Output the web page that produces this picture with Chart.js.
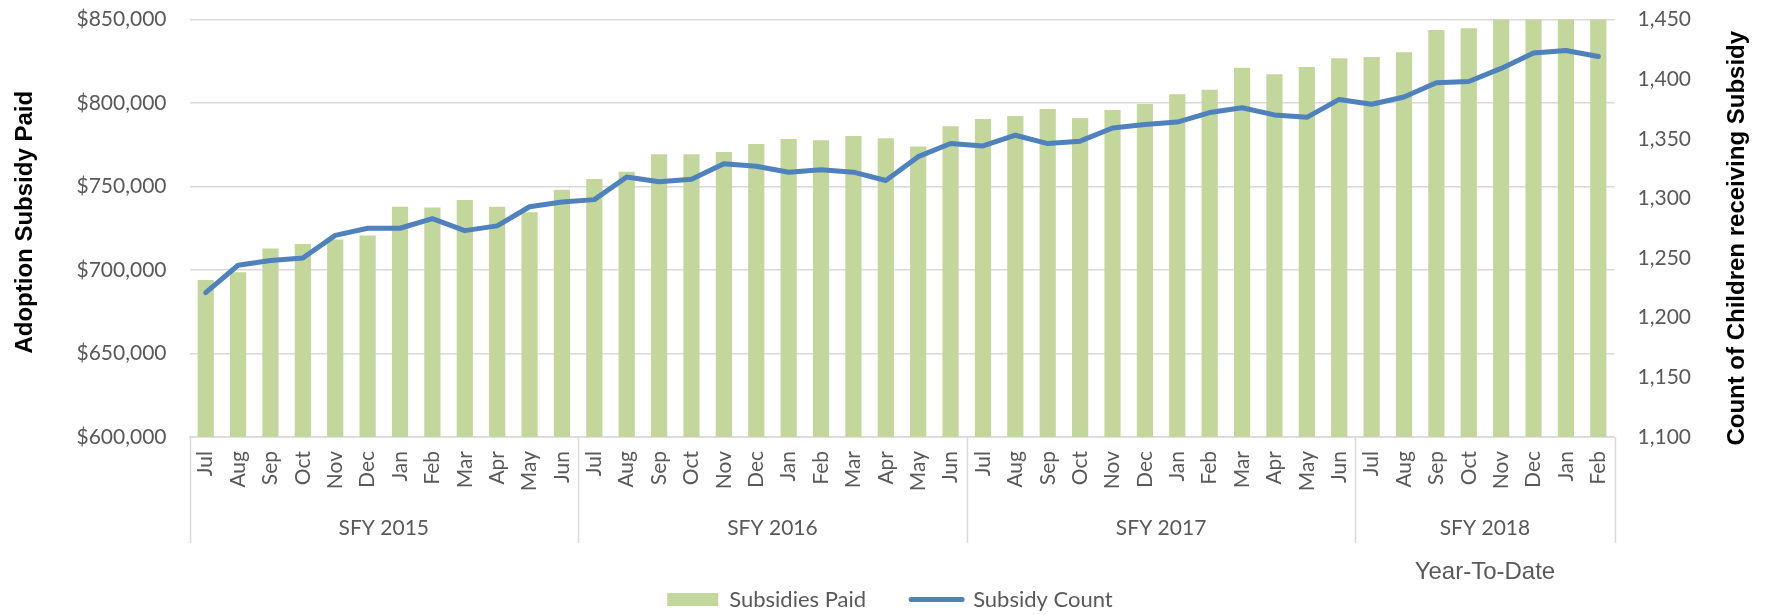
<!DOCTYPE html>
<html>
<head>
<meta charset="utf-8">
<title>Adoption Subsidy</title>
<script src="https://cdn.jsdelivr.net/npm/chart.js@4.4.1/dist/chart.umd.min.js"></script>
<style>
  html, body { margin: 0; padding: 0; background: #fff; }
</style>
</head>
<body>
<canvas id="subsidyChart" width="1780" height="615"></canvas>
<script>
// fiscal years and the months reported in each
const fiscalYears = ["SFY 2015", "SFY 2016", "SFY 2017", "SFY 2018"];
const monthsPerYear = [12, 12, 12, 8];
const monthNames = ["Jul", "Aug", "Sep", "Oct", "Nov", "Dec", "Jan", "Feb", "Mar", "Apr", "May", "Jun"];
const months = fiscalYears.flatMap((fy, i) => monthNames.slice(0, monthsPerYear[i]));

// monthly subsidy dollars paid
const subsidiesPaid = [
  694000, 698600, 712800, 715600, 718200, 720600, 737900, 737500, 741900, 737900, 734600, 748100,
  754500, 758900, 769300, 769300, 770700, 775500, 778500, 777700, 780300, 778900, 773900, 786100,
  790400, 792200, 796400, 791000, 795800, 799400, 805300, 808000, 821100, 817200, 821600, 826800,
  827500, 830400, 843700, 844700, 852000, 856000, 858000, 855000
];

// children receiving a subsidy each month
const subsidyCount = [
  1221, 1244, 1248, 1250, 1269, 1275, 1275, 1283, 1273, 1277, 1293, 1297,
  1299, 1318, 1314, 1316, 1329, 1327, 1322, 1324, 1322, 1315, 1335, 1346,
  1344, 1353, 1346, 1348, 1359, 1362, 1364, 1372, 1376, 1370, 1368, 1383,
  1379, 1385, 1397, 1398, 1409, 1422, 1424, 1419
];

const paidTicks = [600000, 650000, 700000, 750000, 800000, 850000];
const countTicks = [1100, 1150, 1200, 1250, 1300, 1350, 1400, 1450];

const paidTitle = "Adoption Subsidy Paid";
const countTitle = "Count of Children receiving Subsidy";
const ytdNote = "Year-To-Date";

const GREEN = "#C3D69B";
const BLUE = "#4F81BD";
const GRID = "#D9D9D9";
const TEXT = "#595959";
const tickFont = { family: "Lato", size: 21 };

// fiscal year brackets under the month labels, plus the YTD note
const fiscalYearGroups = {
  id: "fiscalYearGroups",
  afterDraw(chart) {
    const { ctx } = chart;
    const x = chart.scales.x;
    const half = (x.getPixelForValue(1) - x.getPixelForValue(0)) / 2;
    const top = x.top;
    ctx.save();
    ctx.strokeStyle = GRID;
    ctx.lineWidth = 1.5;
    ctx.fillStyle = TEXT;
    ctx.font = "21px Lato";
    ctx.textAlign = "center";
    ctx.textBaseline = "middle";
    let start = 0;
    const edges = [];
    fiscalYears.forEach((fy, i) => {
      const end = start + monthsPerYear[i];
      const left = x.getPixelForValue(start) - half;
      const right = x.getPixelForValue(end - 1) + half;
      edges.push(left);
      if (i === fiscalYears.length - 1) edges.push(right);
      ctx.fillText(fy, (left + right) / 2, top + 91);
      if (i === fiscalYears.length - 1) {
        ctx.font = "24px 'Liberation Sans'";
        ctx.fillText(ytdNote, (left + right) / 2, top + 135);
      }
      start = end;
    });
    edges.forEach((ex) => {
      ctx.beginPath();
      ctx.moveTo(Math.round(ex) + 0.5, top);
      ctx.lineTo(Math.round(ex) + 0.5, top + 106);
      ctx.stroke();
    });
    ctx.restore();
  }
};

// rotated axis titles, both reading bottom to top
const axisTitles = {
  id: "axisTitles",
  afterDraw(chart) {
    const { ctx, chartArea } = chart;
    const mid = (chartArea.top + chartArea.bottom) / 2;
    ctx.save();
    ctx.fillStyle = "#000";
    ctx.font = "bold 24px 'Liberation Sans'";
    ctx.textAlign = "center";
    ctx.textBaseline = "middle";
    [[paidTitle, chart.scales.y.left + 25, mid - 6], [countTitle, chart.scales.y1.right - 43, mid + 10]]
      .forEach(([text, tx, ty]) => {
        ctx.save();
        ctx.translate(tx, ty);
        ctx.rotate(-Math.PI / 2);
        ctx.fillText(text, 0, 0);
        ctx.restore();
      });
    ctx.restore();
  }
};

// fixed width for a value axis; drop the extra room it asks for above and below
const fixAxis = (width) => (scale) => {
  scale.width = width;
  scale.paddingTop = 0;
  scale.paddingBottom = 0;
};

new Chart(document.getElementById("subsidyChart"), {
  type: "bar",
  data: {
    labels: months,
    datasets: [
      {
        label: "Subsidies Paid",
        data: subsidiesPaid,
        backgroundColor: GREEN,
        barPercentage: 0.5,
        categoryPercentage: 1.0,
        yAxisID: "y",
        order: 1
      },
      {
        type: "line",
        label: "Subsidy Count",
        data: subsidyCount,
        borderColor: BLUE,
        backgroundColor: BLUE,
        borderWidth: 5,
        borderJoinStyle: "round",
        borderCapStyle: "round",
        pointRadius: 0,
        tension: 0,
        yAxisID: "y1",
        order: 0
      }
    ]
  },
  options: {
    responsive: false,
    animation: false,
    layout: { padding: { top: 19.5, left: 0, right: 0, bottom: -5.5 } },
    plugins: {
      tooltip: { enabled: false },
      legend: {
        position: "bottom",
        labels: {
          usePointStyle: true,
          pointStyleWidth: 51,
          boxHeight: 13,
          padding: 45,
          color: TEXT,
          font: { family: "Lato", size: 22 },
          sort: (a, b) => a.datasetIndex - b.datasetIndex,
          generateLabels(chart) {
            return Chart.defaults.plugins.legend.labels.generateLabels(chart).map((item) => {
              if (item.datasetIndex === 0) {
                return { ...item, pointStyle: "rect", fillStyle: GREEN, strokeStyle: GREEN, lineWidth: 0 };
              }
              return { ...item, pointStyle: "line", strokeStyle: BLUE, fillStyle: BLUE, lineWidth: 5, lineCap: "round" };
            });
          }
        }
      }
    },
    scales: {
      x: {
        grid: { display: false, drawTicks: false },
        border: { display: true, color: GRID, width: 1.5 },
        ticks: {
          autoSkip: false,
          minRotation: 90,
          maxRotation: 90,
          padding: 14,
          color: TEXT,
          font: tickFont
        },
        afterFit(scale) { scale.height = 106.5; }
      },
      y: {
        position: "left",
        min: paidTicks[0],
        max: paidTicks[paidTicks.length - 1],
        grid: { color: GRID, lineWidth: 1.5, drawTicks: false },
        border: { display: false },
        ticks: {
          stepSize: paidTicks[1] - paidTicks[0],
          padding: 23,
          color: TEXT,
          font: tickFont,
          callback: (v) => "$" + v.toLocaleString("en-US")
        },
        afterFit: fixAxis(189.5)
      },
      y1: {
        position: "right",
        min: countTicks[0],
        max: countTicks[countTicks.length - 1],
        grid: { drawOnChartArea: false, drawTicks: false },
        border: { display: false },
        ticks: {
          stepSize: countTicks[1] - countTicks[0],
          padding: 23,
          color: TEXT,
          font: tickFont,
          callback: (v) => v.toLocaleString("en-US")
        },
        afterFit: fixAxis(165.5)
      }
    }
  },
  plugins: [fiscalYearGroups, axisTitles]
});
</script>
</body>
</html>
